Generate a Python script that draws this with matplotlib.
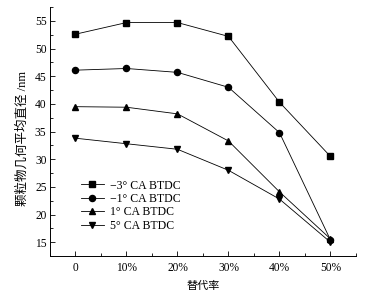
import matplotlib
matplotlib.use("Agg")
import matplotlib.pyplot as plt
from matplotlib.ticker import MultipleLocator

x_labels = ["0", "10%", "20%", "30%", "40%", "50%"]
series_names = ["\u22123\u00b0 CA BTDC", "\u22121\u00b0 CA BTDC", "1\u00b0 CA BTDC", "5\u00b0 CA BTDC"]
s_m3 = [52.6, 54.7, 54.7, 52.2, 40.3, 30.5]
s_m1 = [46.1, 46.4, 45.7, 43.0, 34.8, 15.4]
s_p1 = [39.5, 39.4, 38.2, 33.3, 24.1, 15.6]
s_p5 = [33.8, 32.8, 31.8, 28.0, 22.8, 15.0]
markers = ["s", "o", "^", "v"]

plt.rcParams['font.family'] = ['Liberation Serif', 'Noto Sans CJK SC']

fig = plt.figure(figsize=(3.75, 2.95), dpi=100)
ax = fig.add_axes([0.1333, 0.132, 0.816, 0.844])
xs = list(range(len(x_labels)))
for vals, m, name in zip([s_m3, s_m1, s_p1, s_p5], markers, series_names):
    ax.plot(xs, vals, color='black', lw=0.6, marker=m, markersize=4.4, label=name)

ax.set_xlim(-0.5, 5.5)
ax.set_ylim(12.5, 57.5)
ax.set_xticks(xs)
ax.set_xticklabels(x_labels)
ax.xaxis.set_minor_locator(MultipleLocator(0.5))
ax.yaxis.set_major_locator(MultipleLocator(5))
ax.yaxis.set_minor_locator(MultipleLocator(2.5))
ax.tick_params(which='both', direction='in', labelsize=8.3, width=0.6)
ax.tick_params(axis='x', which='both', pad=4.5)
ax.tick_params(axis='y', which='both', pad=2.5)
ax.tick_params(which='major', length=3.5)
ax.tick_params(which='minor', length=2)
for s in ['top', 'right']:
    ax.spines[s].set_visible(False)
for s in ['left', 'bottom']:
    ax.spines[s].set_linewidth(0.7)

ax.set_xlabel("替代率", family=['Noto Sans CJK SC'], fontsize=8, labelpad=4.5)
ax.set_ylabel("颗粒物几何平均直径 /nm", family=['Liberation Serif', 'Noto Sans CJK SC'], fontsize=9)
ax.yaxis.set_label_coords(-0.068, 0.474)

leg = ax.legend(loc='upper left', bbox_to_anchor=(0.1, 0.307), frameon=False, fontsize=8.5,
                handlelength=1.95, handletextpad=0.5, labelspacing=0.12, borderpad=0,
                borderaxespad=0)

fig.savefig("out.png", dpi=100)
